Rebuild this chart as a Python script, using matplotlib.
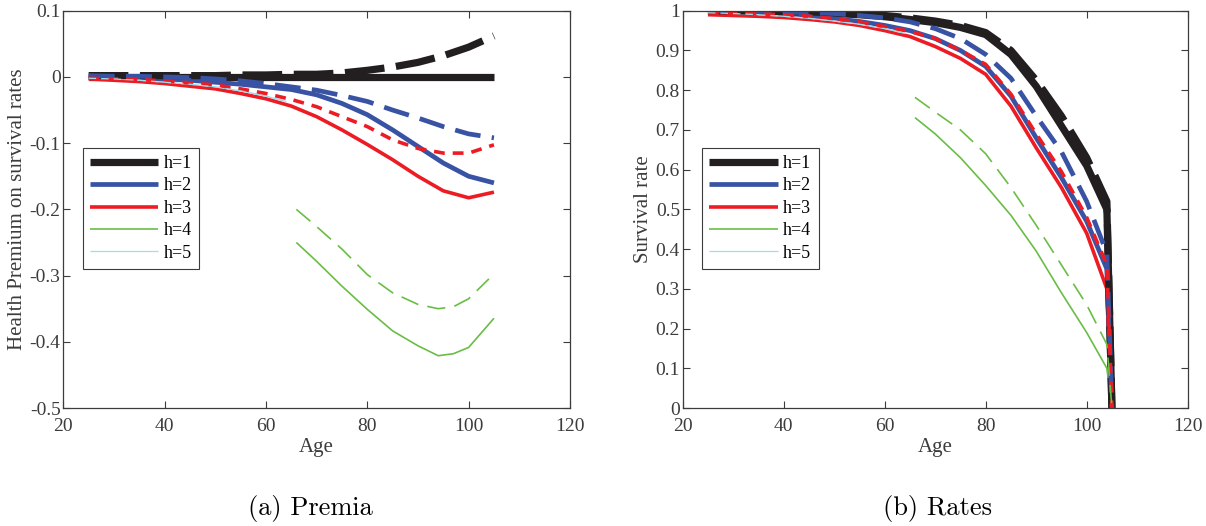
import matplotlib
matplotlib.use('Agg')
import matplotlib.pyplot as plt
from matplotlib.ticker import FuncFormatter

# ---- (a) Premia ----
ages_a = [25, 30, 35, 40, 45, 50, 55, 60, 65, 70, 75, 80, 85, 90, 95, 100, 105]
prem_h1 = [0] * 17
prem_h1_d = [0.002, 0.002, 0.002, 0.002, 0.002, 0.002, 0.003, 0.003, 0.004, 0.004,
             0.006, 0.01, 0.015, 0.022, 0.032, 0.045, 0.062]
prem_h2 = [0, -0.001, -0.002, -0.003, -0.005, -0.008, -0.011, -0.015, -0.019, -0.027,
           -0.04, -0.057, -0.08, -0.105, -0.13, -0.15, -0.16]
prem_h2_d = [0.002, 0.001, 0.001, 0, -0.001, -0.003, -0.006, -0.01, -0.015, -0.02,
             -0.028, -0.037, -0.05, -0.062, -0.075, -0.086, -0.092]
prem_h3 = [-0.003, -0.005, -0.007, -0.01, -0.014, -0.018, -0.025, -0.033, -0.044, -0.06,
           -0.08, -0.102, -0.125, -0.15, -0.172, -0.1825, -0.174]
prem_h3_d = [-0.002, -0.003, -0.004, -0.006, -0.009, -0.012, -0.018, -0.025, -0.034, -0.045,
             -0.06, -0.075, -0.095, -0.108, -0.115, -0.115, -0.1025]
ages_g = [66, 70, 75, 80, 85, 90, 94, 97, 100, 105]
prem_h4 = [-0.25, -0.2785, -0.316, -0.351, -0.3835, -0.406, -0.421, -0.418, -0.4085, -0.3645]
ages_gd = [66, 70, 75, 80, 85, 90, 94, 97, 100, 104]
prem_h4_d = [-0.2, -0.226, -0.26, -0.2985, -0.326, -0.3435, -0.35, -0.347, -0.335, -0.305]
ages_c = [25, 30, 35, 40, 45, 50, 55, 60, 64]
prem_h5 = [-0.002, -0.003, -0.005, -0.008, -0.011, -0.015, -0.021, -0.029, -0.037]

# ---- (b) Rates ----
ages_b = [25, 30, 35, 40, 45, 50, 55, 60, 65, 70, 75, 80, 85, 90, 95, 100, 104, 105]
surv_h1 = [0.999, 0.999, 0.998, 0.997, 0.995, 0.993, 0.99, 0.985, 0.978, 0.97, 0.958,
           0.94, 0.89, 0.81, 0.71, 0.61, 0.5, 0]
surv_h1_d = [1.0, 1.0, 0.999, 0.998, 0.997, 0.995, 0.992, 0.988, 0.982, 0.974, 0.963,
             0.945, 0.9, 0.825, 0.735, 0.63, 0.52, 0]
surv_h2 = [0.996, 0.995, 0.994, 0.99, 0.986, 0.98, 0.973, 0.963, 0.95, 0.93, 0.9,
           0.86, 0.785, 0.68, 0.58, 0.47, 0.35, 0]
surv_h2_d = [1.0, 0.999, 0.998, 0.997, 0.995, 0.993, 0.988, 0.982, 0.972, 0.955, 0.93,
             0.89, 0.83, 0.735, 0.645, 0.52, 0.39, 0]
surv_h3 = [0.99, 0.988, 0.986, 0.983, 0.978, 0.972, 0.963, 0.95, 0.935, 0.91, 0.88,
           0.84, 0.76, 0.655, 0.555, 0.44, 0.3, 0]
surv_h3_d = [0.995, 0.994, 0.992, 0.99, 0.986, 0.98, 0.972, 0.96, 0.948, 0.93, 0.9,
             0.865, 0.79, 0.69, 0.595, 0.48, 0.36, 0]
ages_gb = [66, 70, 75, 80, 85, 90, 95, 100, 104, 105]
surv_h4 = [0.731, 0.69, 0.63, 0.56, 0.485, 0.395, 0.29, 0.19, 0.1, 0]
surv_h4_d = [0.782, 0.745, 0.7, 0.64, 0.555, 0.46, 0.36, 0.26, 0.16, 0]
surv_h5 = [0.995, 0.993, 0.99, 0.986, 0.981, 0.974, 0.966, 0.955, 0.943]

labels = ['h=1', 'h=2', 'h=3', 'h=4', 'h=5']
colors = ['#231f20', '#3953a4', '#ed1c24', '#6abd45', '#9fdde8']
widths = [5.2, 3.4, 2.6, 1.2, 0.9]
dashes = [(0, (5.5, 1.6)), (0, (5.5, 2.4)), (0, (3.0, 2.2)), (0, (11, 5.5)), (0, (6, 4))]
txt = '#3c3c3c'

plt.rcParams['font.family'] = ['Liberation Serif', 'DejaVu Serif']
plt.rcParams['font.size'] = 14

fig = plt.figure(figsize=(12.06, 5.26), dpi=100)
ax1 = fig.add_axes([0.0525, 0.2243, 0.4201, 0.7553])
ax2 = fig.add_axes([0.5661, 0.2243, 0.4187, 0.7553])

series_a = [(ages_a, prem_h1, ages_a, prem_h1_d), (ages_a, prem_h2, ages_a, prem_h2_d),
            (ages_a, prem_h3, ages_a, prem_h3_d), (ages_g, prem_h4, ages_gd, prem_h4_d),
            (ages_c, prem_h5, ages_c, prem_h5)]
series_b = [(ages_b, surv_h1, ages_b, surv_h1_d), (ages_b, surv_h2, ages_b, surv_h2_d),
            (ages_b, surv_h3, ages_b, surv_h3_d), (ages_gb, surv_h4, ages_gb, surv_h4_d),
            (ages_c, surv_h5, ages_c, surv_h5)]

fmt = FuncFormatter(lambda v, p: ('%g' % round(v, 2)).replace('\u2212', '-'))

for ax, series in [(ax1, series_a), (ax2, series_b)]:
    handles = []
    for i, (xs, ys, xd, yd) in enumerate(series):
        ln, = ax.plot(xs, ys, color=colors[i], lw=widths[i], solid_capstyle='butt', label=labels[i])
        handles.append(ln)
    for i, (xs, ys, xd, yd) in enumerate(series):
        ax.plot(xd, yd, color=colors[i], lw=widths[i], linestyle=dashes[i], dash_capstyle='butt')
    ax.set_xlim(20, 120)
    ax.set_xticks([20, 40, 60, 80, 100, 120])
    ax.set_xlabel('Age', color=txt, fontsize=15, labelpad=2)
    ax.yaxis.set_major_formatter(fmt)
    ax.tick_params(direction='in', top=True, right=True, length=5, width=0.8,
                   colors=txt, labelsize=14)
    ax.tick_params(axis='x', pad=7)
    ax.tick_params(axis='y', pad=2)
    for sp in ax.spines.values():
        sp.set_color(txt)
        sp.set_linewidth(0.9)
    leg = ax.legend(handles=handles, loc='upper left', bbox_to_anchor=(0.038, 0.655),
                    fontsize=13, handlelength=3.8, handletextpad=0.3, labelspacing=0.3,
                    borderpad=0.4, fancybox=False, framealpha=1, borderaxespad=0)
    leg.get_frame().set_edgecolor(txt)
    leg.get_frame().set_linewidth(0.8)

ax1.set_ylim(-0.5, 0.1)
ax1.set_yticks([-0.5, -0.4, -0.3, -0.2, -0.1, 0, 0.1])
ax1.set_ylabel('Health Premium on survival rates', color=txt, fontsize=15, labelpad=2)
ax2.set_ylim(0, 1)
ax2.set_yticks([0, 0.1, 0.2, 0.3, 0.4, 0.5, 0.6, 0.7, 0.8, 0.9, 1])
ax2.set_ylabel('Survival rate', color=txt, fontsize=15, labelpad=2)

fig.text(0.257, 0.034, '(a) Premia', family=['cmr10', 'DejaVu Serif'], fontsize=19, ha='center', va='center')
fig.text(0.777, 0.034, '(b) Rates', family=['cmr10', 'DejaVu Serif'], fontsize=19, ha='center', va='center')

fig.savefig('out.png', dpi=100)
